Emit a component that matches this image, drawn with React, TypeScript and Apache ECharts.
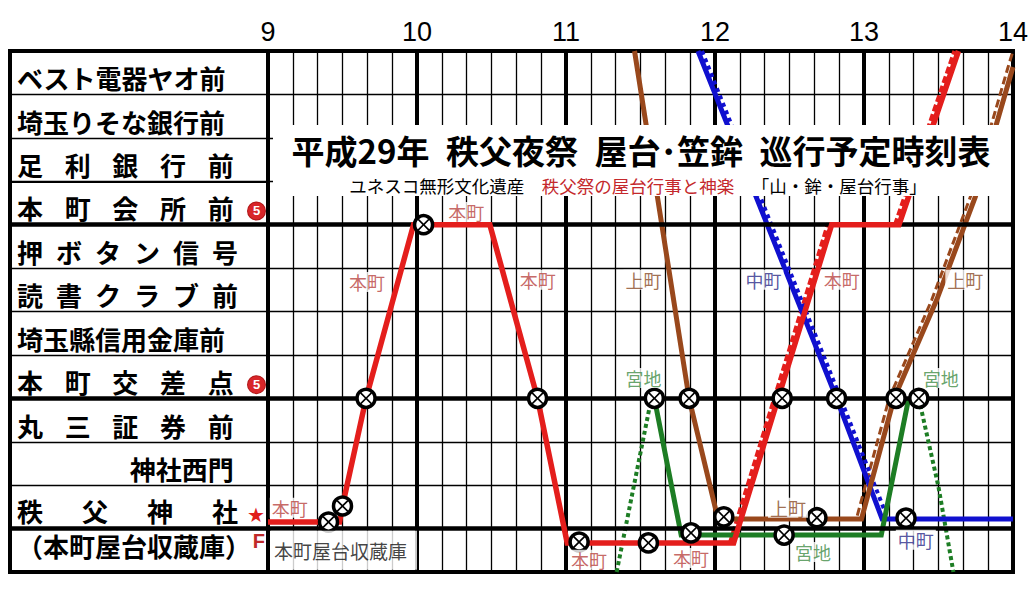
import React, { useEffect, useRef } from "react";
import * as echarts from "echarts";

// ---------- data ----------
const hourTicks = [9, 10, 11, 12, 13, 14];

const stations = [
  "ベスト電器ヤオ前",
  "埼玉りそな銀行前",
  "足\u2002\u2004利\u2002\u2004銀\u2002\u2004行\u2002\u2004前",
  "本\u2002\u2004町\u2002\u2004会\u2002\u2004所\u2002\u2004前",
  "押\u2002ボ\u2002タ\u2002ン\u2002信\u2002号",
  "読\u2002書\u2002ク\u2002ラ\u2002ブ\u2002前",
  "埼玉縣信用金庫前",
  "本\u2002\u2004町\u2002\u2004交\u2002\u2004差\u2002\u2004点",
  "丸\u2002\u2004三\u2002\u2004証\u2002\u2004券\u2002\u2004前",
  "\u3000\u3000\u3000\u3000\u2004神社西門",
  "秩\u3000\u2002父\u3000\u2002神\u3000\u2002社",
  "（本町屋台収蔵庫）",
];
// "5" is drawn as a red disc with a white digit
const stationMarks = ["", "", "", "5", "", "", "", "5", "", "", "★", "F"];
const thickRows = [4, 8, 11];
const labelColumnMediumRows = [3];

// 本町 (red, solid)
const honchoTimes = [9.0, 9.48, 9.5, 9.658, 9.977, 10.489, 10.809, 11.008, 12.125, 12.783, 13.235, 13.634];
const honchoRows = [10.85, 10.85, 10.48, 8, 4, 4, 8, 11.33, 11.33, 4, 4, 0];
// 本町 companion (red, dashed)
const honchoBTimes = [12.1, 12.756, 13.208, 13.607];
const honchoBRows = [11.33, 4, 4, 0];

// 中町 (blue, solid)
const nakachoTimes = [11.886, 12.816, 13.122, 14.0];
const nakachoRows = [0, 8, 10.78, 10.78];
// 中町 companion (blue, dotted)
const nakachoBTimes = [11.913, 12.843, 13.14];
const nakachoBRows = [0, 8, 10.6];

// 上町 (brown, solid)
const kamichoTimes = [11.46, 11.826, 12.02, 12.983, 13.202, 13.488, 13.747, 14.0];
const kamichoRows = [0, 8, 10.78, 10.78, 8, 5.73, 3.36, 0.37];
// 上町 companion (brown, dashed)
const kamichoBTimes = [12.955, 13.169, 13.455, 13.714, 13.967, 14.0];
const kamichoBRows = [10.7, 8, 5.73, 3.36, 0.37, 0];

// 宮地 (green, solid)
const miyajiTimes = [11.593, 11.773, 13.116, 13.3];
const miyajiRows = [8, 11.15, 11.15, 8];
// 宮地 (green, dotted) going up / coming down
const miyajiUpTimes = [11.34, 11.57];
const miyajiUpRows = [12, 8.05];
const miyajiDownTimes = [13.368, 13.5, 13.6];
const miyajiDownRows = [8, 10.04, 12];

// ⊗ crossing marks
const crossTimes = [9.406, 9.5, 9.658, 10.044, 10.809, 11.088, 11.553, 11.593, 11.826, 11.839, 12.059, 12.451, 12.464, 12.684, 12.816, 13.215, 13.368, 13.282];
const crossRows = [10.85, 10.48, 8, 4, 8, 11.31, 11.33, 8, 8, 11.1, 10.73, 8, 11.15, 10.75, 8, 8, 8, 10.76];

// float name labels on the chart
const floatLabelNames = ["本町", "本町", "本町", "本町", "本町", "本町", "本町", "上町", "上町", "上町", "中町", "中町", "宮地", "宮地", "宮地"];
const floatLabelTimes = [9.146, 9.665, 10.33, 10.81, 11.154, 11.839, 12.85, 11.52, 13.68, 12.49, 12.325, 13.348, 11.52, 13.515, 12.657];
const floatLabelRows = [10.52, 5.32, 3.71, 5.27, 11.72, 11.68, 5.27, 5.27, 5.27, 10.52, 5.27, 11.26, 7.53, 7.53, 11.54];
const depotLabel = "本町屋台収蔵庫";
const depotTime = 9.02;
const depotRow = 11.5;

const titleText = "平成29年\u2002秩父夜祭\u2002屋台･笠鉾\u2002巡行予定時刻表";
const subBlack1 = "ユネスコ無形文化遺産";
const subRed = "秩父祭の屋台行事と神楽";
const subBlack2 = "「山・鉾・屋台行事」";

// ---------- styles ----------
const CJK = '"Noto Sans CJK JP", "Noto Sans CJK SC", sans-serif';
const RED = "#e41e1c";
const BLUE = "#1010cf";
const BROWN = "#99481c";
const GREEN = "#1d7d24";
const labelColors: Record<string, string> = {
  本町: "#b8423e",
  上町: "#8a4a26",
  中町: "#2a2a88",
  宮地: "#3f8c45",
};

const zip = (t: number[], r: number[]) => t.map((v, i) => [v, r[i]]);

function lineSeries(t: number[], r: number[], color: string, width: number, type: any, z: number) {
  return {
    type: "line",
    xAxisIndex: 0,
    yAxisIndex: 0,
    data: zip(t, r),
    symbol: "none",
    showSymbol: false,
    silent: true,
    z,
    lineStyle: { color, width, type, cap: "butt", join: "miter" },
  };
}

const X_PATH =
  "path://M2,0 L10,8 L18,0 L20,2 L12,10 L20,18 L18,20 L10,12 L2,20 L0,18 L8,10 L0,2 Z";

function rowLabel(v: string, i: number) {
  if (i === stations.length - 1) return `{n|${v}}\n{g2|\u2002}`;
  if (i === stations.length - 2) return `{g3|\u2002}\n{n|${v}}`;
  return `{g|\u2002}\n{n|${v}}`;
}

function buildOption() {
  const thickMark = (xi: number, yi: number, rows: number[], width: number) => ({
    type: "line",
    xAxisIndex: xi,
    yAxisIndex: yi,
    data: [],
    silent: true,
    z: 1,
    markLine: {
      symbol: "none",
      silent: true,
      animation: false,
      label: { show: false },
      lineStyle: { color: "#000", width, type: "solid" },
      data: rows.map((v) => ({ yAxis: v })),
    },
  });

  return {
    animation: false,
    backgroundColor: "#fff",
    grid: [
      { left: 10, top: 51, width: 258, height: 521, show: true, borderColor: "#000", borderWidth: 4, backgroundColor: "#fff" },
      { left: 268, top: 51, width: 752, height: 521, show: true, borderColor: "#000", borderWidth: 4, backgroundColor: "#fff" },
    ],
    xAxis: [
      {
        gridIndex: 1,
        type: "value",
        position: "top",
        min: 9,
        max: 14,
        interval: 1,
        axisLine: { show: false },
        axisTick: { show: false },
        axisLabel: {
          fontSize: 27,
          color: "#000",
          margin: 6,
          fontFamily: '"Liberation Sans", Arial, sans-serif',
          formatter: (v: number) => (hourTicks.includes(v) ? String(v) : ""),
        },
        splitLine: { show: true, lineStyle: { color: "#000", width: 4 } },
        minorTick: { show: false, splitNumber: 6 },
        minorSplitLine: { show: true, lineStyle: { color: "#000", width: 1.3 } },
      },
      { gridIndex: 0, type: "value", min: 0, max: 1, show: false },
    ],
    yAxis: [
      {
        gridIndex: 1,
        type: "value",
        inverse: true,
        min: 0,
        max: 12,
        interval: 1,
        axisLine: { show: false },
        axisTick: { show: false },
        axisLabel: { show: false },
        splitLine: { show: true, lineStyle: { color: "#000", width: 1.3 } },
      },
      {
        gridIndex: 0,
        type: "value",
        inverse: true,
        min: 0,
        max: 12,
        interval: 1,
        axisLine: { show: false },
        axisTick: { show: false },
        axisLabel: { show: false },
        splitLine: { show: true, lineStyle: { color: "#000", width: 1.3 } },
      },
      {
        gridIndex: 0,
        type: "category",
        inverse: true,
        position: "left",
        data: stations,
        axisLine: { show: false },
        axisTick: { show: false },
        splitLine: { show: false },
        axisLabel: {
          inside: true,
          interval: 0,
          margin: 7,
          align: "left",
          formatter: rowLabel,
          rich: {
            n: { fontSize: 26, fontWeight: "bold", fontFamily: CJK, color: "#000", lineHeight: 28 },
            g: { fontSize: 6, lineHeight: 10 },
            g2: { fontSize: 6, lineHeight: 10 },
            g3: { fontSize: 6, lineHeight: 8 },
          },
        },
      },
      {
        gridIndex: 0,
        type: "category",
        inverse: true,
        position: "right",
        data: stations,
        axisLine: { show: false },
        axisTick: { show: false },
        splitLine: { show: false },
        axisLabel: {
          inside: true,
          interval: 0,
          margin: 3,
          align: "right",
          formatter: (_v: string, i: number) => {
            const m = stationMarks[i];
            if (!m) return "";
            const key = m === "5" ? "c" : m === "★" ? "s" : "f";
            return m === "F" ? `{${key}|${m}}\n{g2|\u2002}` : `{g|\u2002}\n{${key}|${m}}`;
          },
          rich: {
            c: {
              fontSize: 13,
              fontWeight: "bold",
              fontFamily: '"Liberation Sans", sans-serif',
              color: "#fff",
              backgroundColor: "#d8262a",
              borderColor: "#b01818",
              borderWidth: 1,
              borderRadius: 9,
              width: 17,
              height: 17,
              lineHeight: 17,
              align: "center",
            },
            s: { fontSize: 20, fontFamily: '"DejaVu Sans", sans-serif', color: "#e0201c", lineHeight: 20 },
            f: { fontSize: 20, fontWeight: "bold", fontFamily: '"Liberation Sans", sans-serif', color: "#c02a2a", lineHeight: 20 },
            g: { fontSize: 6, lineHeight: 16 },
            g2: { fontSize: 6, lineHeight: 18 },
          },
        },
      },
    ],
    graphic: [
      {
        type: "rect",
        z: 50,
        shape: { x: 273, y: 125, width: 738, height: 71 },
        style: { fill: "#fff" },
      },
      {
        type: "text",
        z: 51,
        x: 641,
        y: 150,
        style: {
          text: titleText,
          fontSize: 33,
          fontWeight: "bold",
          fontFamily: CJK,
          fill: "#000",
          align: "center",
          verticalAlign: "middle",
        },
      },
      {
        type: "text",
        z: 51,
        x: 638,
        y: 185,
        style: {
          text: `{k|${subBlack1}}{k|\u3000}{r|${subRed}}{k|\u3000}{k|${subBlack2}}`,
          align: "center",
          verticalAlign: "middle",
          rich: {
            k: { fontSize: 17.5, fontFamily: CJK, fill: "#000", color: "#000" },
            r: { fontSize: 17.5, fontFamily: CJK, fill: "#c4282c", color: "#c4282c" },
          },
        },
      },
    ],
    series: [
      thickMark(0, 0, thickRows, 4.5),
      thickMark(1, 1, thickRows, 4.5),
      thickMark(1, 1, labelColumnMediumRows, 2.2),
      lineSeries(kamichoBTimes, kamichoBRows, BROWN, 3, [8, 4], 3),
      lineSeries(honchoBTimes, honchoBRows, RED, 4, [7, 3], 3),
      lineSeries(nakachoBTimes, nakachoBRows, BLUE, 4, [4, 4], 3),
      lineSeries(miyajiUpTimes, miyajiUpRows, GREEN, 4, [4, 3], 3),
      lineSeries(miyajiDownTimes, miyajiDownRows, GREEN, 4, [4, 3], 3),
      lineSeries(nakachoTimes, nakachoRows, BLUE, 5, "solid", 4),
      lineSeries(kamichoTimes, kamichoRows, BROWN, 5, "solid", 4),
      lineSeries(miyajiTimes, miyajiRows, GREEN, 5, "solid", 4),
      lineSeries(honchoTimes, honchoRows, RED, 5.5, "solid", 5),
      {
        type: "scatter",
        xAxisIndex: 0,
        yAxisIndex: 0,
        z: 8,
        silent: true,
        symbol: "circle",
        symbolSize: 18,
        itemStyle: { color: "#fff", borderColor: "#000", borderWidth: 3.5, opacity: 1 },
        data: zip(crossTimes, crossRows),
      },
      {
        type: "scatter",
        xAxisIndex: 0,
        yAxisIndex: 0,
        z: 9,
        silent: true,
        symbol: X_PATH,
        symbolSize: 12,
        itemStyle: { color: "#000", opacity: 1 },
        data: zip(crossTimes, crossRows),
      },
      {
        type: "scatter",
        xAxisIndex: 0,
        yAxisIndex: 0,
        z: 10,
        silent: true,
        symbolSize: 0,
        data: floatLabelNames.map((n, i) => ({
          name: n,
          value: [floatLabelTimes[i], floatLabelRows[i]],
          label: { color: labelColors[n] },
        })),
        label: {
          show: true,
          position: "inside",
          formatter: (p: any) => p.name,
          fontSize: 18,
          fontFamily: CJK,
          backgroundColor: "#fff",
          padding: [1, 2],
        },
      },
      {
        type: "scatter",
        xAxisIndex: 0,
        yAxisIndex: 0,
        z: 10,
        silent: true,
        symbolSize: 0,
        data: [{ name: depotLabel, value: [depotTime, depotRow] }],
        label: {
          show: true,
          position: "right",
          distance: 0,
          formatter: (p: any) => p.name,
          fontSize: 19,
          fontFamily: CJK,
          color: "#111",
          backgroundColor: "#fff",
          padding: [3, 10, 17, 3],
        },
      },
    ],
  };
}

export default function App() {
  const ref = useRef<HTMLDivElement>(null);
  useEffect(() => {
    if (!ref.current) return;
    const chart = echarts.init(ref.current, null, { renderer: "svg" });
    chart.setOption(buildOption() as any);
    return () => chart.dispose();
  }, []);
  return (
    <div
      ref={ref}
      style={{ position: "fixed", left: 0, top: 0, width: 1031, height: 593, background: "#fff" }}
    />
  );
}
